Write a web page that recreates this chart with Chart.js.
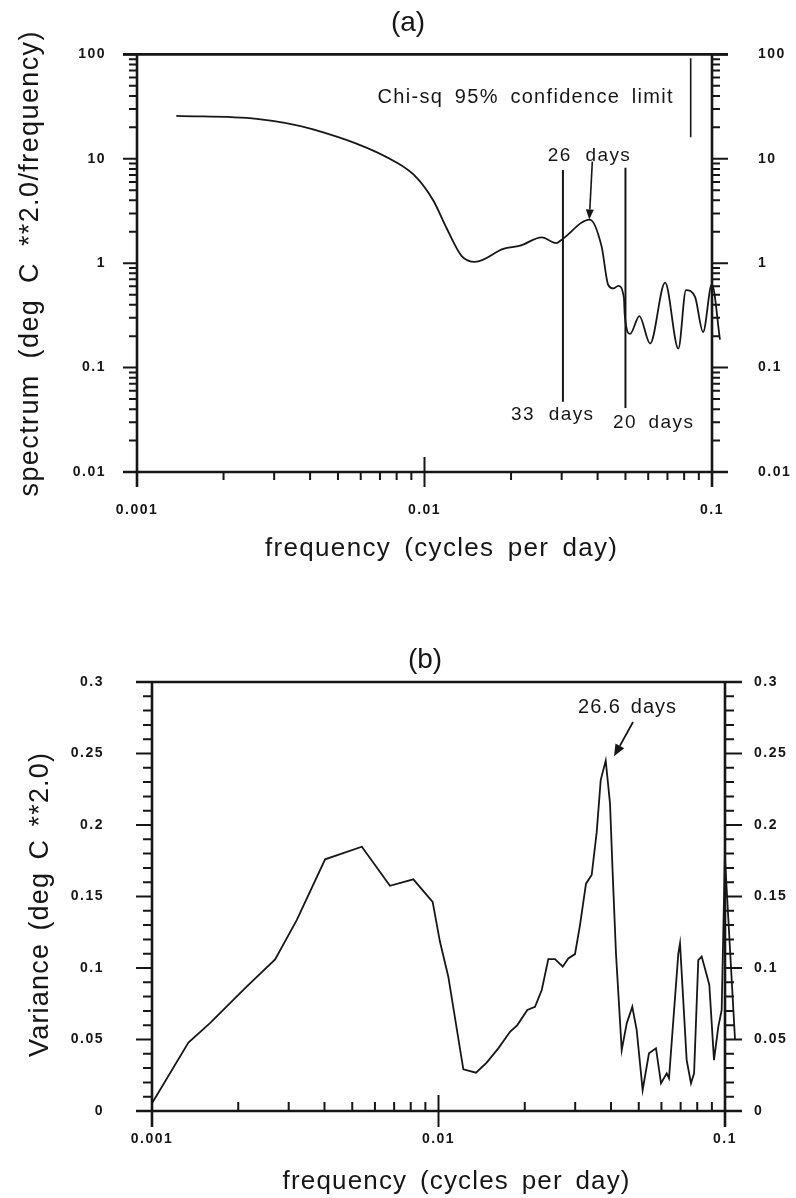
<!DOCTYPE html>
<html>
<head>
<meta charset="utf-8">
<script src="https://cdn.jsdelivr.net/npm/chart.js@4.4.1/dist/chart.umd.min.js"></script>
<style>
  html, body { margin: 0; padding: 0; background: #fff; }
  #wrap { position: relative; width: 796px; height: 1198px; background: #fff; }
  .box { position: absolute; left: 0; }
  #boxA { top: 0; }
  #boxB { top: 580px; }
</style>
</head>
<body>
<div id="wrap">
  <div class="box" id="boxA"><canvas id="spectrumChart" width="796" height="580"></canvas></div>
  <div class="box" id="boxB"><canvas id="varianceChart" width="796" height="618"></canvas></div>
</div>
<script>
// (a) spectrum, frequency in cycles per day
const specFreq = [0.00137, 0.00261, 0.00410, 0.00811, 0.00944, 0.01074, 0.01195, 0.01347, 0.0150,
    0.0188, 0.0215, 0.0256, 0.0287, 0.0300, 0.0376, 0.0413, 0.0436, 0.0454, 0.0472, 0.0494,
    0.0497, 0.0519, 0.0559, 0.0609, 0.0687, 0.0764, 0.0812, 0.0873, 0.0931, 0.0999, 0.1066];
const specValue = [25.8, 24.1, 19.1, 9.0, 6.5, 3.96, 2.15, 1.17, 1.03,
    1.37, 1.47, 1.77, 1.56, 1.68, 2.62, 1.45, 0.615, 0.573, 0.607, 0.462,
    0.323, 0.21, 0.311, 0.17, 0.652, 0.152, 0.553, 0.475, 0.219, 0.629, 0.185];

// (b) variance
const varFreq = [0.00100, 0.00134, 0.00159, 0.00214, 0.00269, 0.00320, 0.00402, 0.00540, 0.00677,
    0.00817, 0.00954, 0.01012, 0.01082, 0.01221, 0.01352, 0.01473, 0.01617, 0.01777, 0.01884,
    0.02042, 0.02172, 0.02293, 0.02417, 0.02551, 0.02714, 0.02838, 0.02995, 0.03118, 0.03272,
    0.03425, 0.03566, 0.03683, 0.03834, 0.03969, 0.04055, 0.04164, 0.04360, 0.04539, 0.04747,
    0.04918, 0.05159, 0.05428, 0.05743, 0.05979, 0.06259, 0.06376, 0.06871, 0.06966, 0.07349,
    0.07608, 0.0780, 0.08068, 0.08291, 0.08633, 0.08816, 0.09154, 0.09477, 0.09736, 0.0999, 0.1084];
const varValue = [0.0054, 0.0478, 0.0613, 0.0869, 0.106, 0.1335, 0.176, 0.1848, 0.1575,
    0.162, 0.1463, 0.1183, 0.0939, 0.0291, 0.0268, 0.0338, 0.0438, 0.0554, 0.0601,
    0.0706, 0.0729, 0.0846, 0.1062, 0.1062, 0.1009, 0.1067, 0.1097, 0.130, 0.159,
    0.165, 0.195, 0.2314, 0.245, 0.215, 0.166, 0.110, 0.0426, 0.0613, 0.0729,
    0.0566, 0.0147, 0.0403, 0.0438, 0.0194, 0.0263, 0.0229, 0.110, 0.1172, 0.0356,
    0.0194, 0.0263, 0.1055, 0.108, 0.0951, 0.0881, 0.0356, 0.059, 0.0706, 0.178, 0.0496];

// axes
const freqTicks = [0.001, 0.01, 0.1];
const freqTickLabels = ['0.001', '0.01', '0.1'];
const specTicks = [0.01, 0.1, 1, 10, 100];
const specTickLabels = ['0.01', '0.1', '1', '10', '100'];
const varTicks = [0, 0.05, 0.1, 0.15, 0.2, 0.25, 0.3];
const varTickLabels = ['0', '0.05', '0.1', '0.15', '0.2', '0.25', '0.3'];
const logMantissas = [2, 3, 4, 5, 6, 7, 8, 9];

// marked periods in (a): days, top and bottom of each line
const periodDays = [33, 20];
const periodTop = [7.8, 8.2];
const periodBottom = [0.047, 0.041];
const chiFreq = 0.0843;
const chiRange = [16.1, 91.8];

const ink = '#161616';
const family = "'Liberation Sans', Arial, Helvetica, sans-serif";
const tickFont = { family: family, size: 14, weight: 'bold' };

const freqMinor = freqTicks.slice(0, -1).flatMap(d => logMantissas.map(m => m * d));
const specMinor = specTicks.slice(0, -1).flatMap(d => logMantissas.map(m => m * d));
const varMinor = [];
for (let i = 1; i < 30; i++) if (i % 5) varMinor.push(i / 100);

// text stretched to the width it has in the print: some letter spacing, the rest between words
function putText(ctx, t, x, y) {
    ctx.save();
    ctx.font = `${t.weight || 'normal'} ${t.size}px ${family}`;
    ctx.fillStyle = ink;
    ctx.textBaseline = 'alphabetic';
    ctx.textAlign = 'left';
    const canSpace = 'letterSpacing' in ctx;
    if (canSpace) ctx.letterSpacing = '0px';
    if ('wordSpacing' in ctx) ctx.wordSpacing = '0px';
    const natural = ctx.measureText(t.text).width;
    const width = t.width || natural;
    ctx.translate(x, y);
    if (t.rotate) ctx.rotate(-Math.PI / 2);
    const n = t.text.length;
    const gaps = (t.text.match(/ /g) || []).length;
    if (canSpace && n > 1 && width !== natural) {
        const extra = width - natural;
        let ls = extra / (n - 1);
        if (gaps && 'wordSpacing' in ctx) {
            ls = Math.max(-0.5, Math.min(1.4, extra * 0.7 / (n - 1)));
            ctx.wordSpacing = ((extra - ls * (n - 1)) / gaps) + 'px';
        }
        ctx.letterSpacing = ls + 'px';
        ctx.fillText(t.text, -width / 2, 0);
    } else if (width !== natural) {
        ctx.scale(width / natural, 1);
        ctx.fillText(t.text, -natural / 2, 0);
    } else {
        ctx.fillText(t.text, -natural / 2, 0);
    }
    ctx.restore();
}

function drawFrame(chart, f) {
    const { ctx, chartArea: a } = chart;
    const xs = chart.scales.x, ys = chart.scales.y;
    ctx.save();
    ctx.strokeStyle = ink;
    ctx.lineWidth = f.frameWidth;
    ctx.beginPath();
    ctx.moveTo(a.left - f.yMajorLeft, a.top); ctx.lineTo(a.right + f.yMajorRight, a.top);
    ctx.moveTo(a.left - f.yMajorLeft, a.bottom); ctx.lineTo(a.right + f.yMajorRight, a.bottom);
    ctx.moveTo(a.left, a.top); ctx.lineTo(a.left, a.bottom + f.xMajor);
    ctx.moveTo(a.right, a.top); ctx.lineTo(a.right, a.bottom + f.xMajor);
    ctx.stroke();

    ctx.lineWidth = f.tickWidth;
    ctx.beginPath();
    f.yMajorTicks.forEach(v => {
        const p = ys.getPixelForValue(v);
        ctx.moveTo(a.left - f.yMajorLeft, p); ctx.lineTo(a.left, p);
        ctx.moveTo(a.right, p); ctx.lineTo(a.right + f.yMajorRight, p);
    });
    f.yMinorTicks.forEach(v => {
        const p = ys.getPixelForValue(v);
        ctx.moveTo(a.left - f.yMinor, p); ctx.lineTo(a.left, p);
        ctx.moveTo(a.right, p); ctx.lineTo(a.right + f.yMinor, p);
    });
    f.xMajorTicks.forEach(v => {
        const p = xs.getPixelForValue(v);
        ctx.moveTo(p, a.bottom - f.xMajor); ctx.lineTo(p, a.bottom + f.xMajor);
    });
    f.xMinorTicks.forEach(v => {
        const p = xs.getPixelForValue(v);
        ctx.moveTo(p, a.bottom); ctx.lineTo(p, a.bottom + f.xMinor);
    });
    ctx.stroke();
    ctx.restore();
}

function drawArrow(chart, arr) {
    const { ctx } = chart;
    const xs = chart.scales.x, ys = chart.scales.y;
    const x0 = xs.getPixelForValue(arr.from[0]), y0 = ys.getPixelForValue(arr.from[1]);
    const x1 = xs.getPixelForValue(arr.to[0]), y1 = ys.getPixelForValue(arr.to[1]);
    const ang = Math.atan2(y1 - y0, x1 - x0);
    const bx = x1 - arr.head * Math.cos(ang), by = y1 - arr.head * Math.sin(ang);
    ctx.save();
    ctx.strokeStyle = ink;
    ctx.fillStyle = ink;
    ctx.lineWidth = arr.lineWidth;
    ctx.beginPath();
    ctx.moveTo(x0, y0); ctx.lineTo(bx, by);
    ctx.stroke();
    ctx.beginPath();
    ctx.moveTo(x1, y1);
    ctx.lineTo(bx + arr.half * Math.sin(ang), by - arr.half * Math.cos(ang));
    ctx.lineTo(bx - arr.half * Math.sin(ang), by + arr.half * Math.cos(ang));
    ctx.closePath();
    ctx.fill();
    ctx.restore();
}

const decorations = {
    id: 'decorations',
    beforeDraw(chart) {
        if ('letterSpacing' in chart.ctx) chart.ctx.letterSpacing = '1.5px';
    },
    beforeDatasetsDraw(chart) {
        if ('letterSpacing' in chart.ctx) chart.ctx.letterSpacing = '0px';
    },
    afterDatasetsDraw(chart, args, opts) {
        const xs = chart.scales.x, ys = chart.scales.y;
        drawFrame(chart, opts.frame);
        (opts.arrows || []).forEach(a => drawArrow(chart, a));
        (opts.notes || []).forEach(t => putText(chart.ctx, t, xs.getPixelForValue(t.x), ys.getPixelForValue(t.y)));
        (opts.titles || []).forEach(t => putText(chart.ctx, t, t.px, t.py));
    }
};

function valueAxis(type, position, min, max, ticks, labels, width, padding) {
    return {
        type: type,
        position: position,
        min: min,
        max: max,
        afterBuildTicks: s => { s.ticks = ticks.map(v => ({ value: v })); },
        afterFit: s => { s.width = width; },
        grid: { display: false, drawTicks: false, tickLength: 0 },
        border: { display: false },
        ticks: {
            callback: (v, i) => labels[i],
            font: tickFont,
            color: ink,
            padding: padding,
            autoSkip: false
        }
    };
}

function freqAxis(height, padding) {
    return {
        type: 'logarithmic',
        min: 0.001,
        max: 0.1,
        afterBuildTicks: s => { s.ticks = freqTicks.map(v => ({ value: v })); },
        afterFit: s => { s.height = height; },
        grid: { display: false, drawTicks: false, tickLength: 0 },
        border: { display: false },
        ticks: {
            callback: (v, i) => freqTickLabels[i],
            font: tickFont,
            color: ink,
            padding: padding,
            maxRotation: 0,
            autoSkip: false
        }
    };
}

const lineStyle = { borderColor: ink, pointRadius: 0, fill: false };

// (a)
const specDatasets = [
    Object.assign({
        data: specFreq.map((f, i) => ({ x: f, y: specValue[i] })),
        borderWidth: 1.8,
        cubicInterpolationMode: 'monotone',
        clip: false
    }, lineStyle)
];
periodDays.forEach((d, i) => {
    specDatasets.push(Object.assign({
        data: [{ x: 1 / d, y: periodTop[i] }, { x: 1 / d, y: periodBottom[i] }],
        borderWidth: 2
    }, lineStyle));
});
specDatasets.push(Object.assign({
    data: [{ x: chiFreq, y: chiRange[0] }, { x: chiFreq, y: chiRange[1] }],
    borderWidth: 1.6
}, lineStyle));

new Chart(document.getElementById('spectrumChart'), {
    type: 'line',
    data: { datasets: specDatasets },
    options: {
        responsive: false,
        animation: false,
        events: [],
        layout: { padding: { top: 43, left: 0, right: 0, bottom: 0 } },
        elements: { line: { capBezierPoints: false } },
        scales: {
            x: freqAxis(108, 30),
            y: valueAxis('logarithmic', 'left', 0.01, 100, specTicks, specTickLabels, 137, 31),
            y2: valueAxis('logarithmic', 'right', 0.01, 100, specTicks, specTickLabels, 84, 46)
        },
        plugins: {
            legend: { display: false },
            tooltip: { enabled: false },
            decorations: {
                frame: {
                    frameWidth: 2.6, tickWidth: 2,
                    yMajorLeft: 14, yMajorRight: 16, yMinor: 8, xMajor: 15, xMinor: 8,
                    yMajorTicks: specTicks, yMinorTicks: specMinor,
                    xMajorTicks: freqTicks, xMinorTicks: freqMinor
                },
                arrows: [{ from: [0.03835, 9.42], to: [0.03743, 2.62], head: 10, half: 4, lineWidth: 1.6 }],
                notes: [
                    { text: 'Chi-sq 95% confidence limit', x: 0.02237, y: 34.2, size: 20, width: 295 },
                    { text: '26 days', x: 0.0373, y: 9.62, size: 19, width: 82 },
                    { text: '33 days', x: 0.02777, y: 0.0318, size: 19, width: 82 },
                    { text: '20 days', x: 0.0623, y: 0.0262, size: 19, width: 80 }
                ],
                titles: [
                    { text: '(a)', px: 408, py: 31, size: 28 },
                    { text: 'frequency (cycles per day)', px: 441, py: 556, size: 26, width: 352 },
                    { text: 'spectrum (deg C **2.0/frequency)', px: 38, py: 264, size: 27, width: 465, rotate: true }
                ]
            }
        }
    },
    plugins: [decorations]
});

// (b)
new Chart(document.getElementById('varianceChart'), {
    type: 'line',
    data: {
        datasets: [Object.assign({
            data: varFreq.map((f, i) => ({ x: f, y: varValue[i] })),
            borderWidth: 1.8,
            tension: 0,
            clip: false
        }, lineStyle)]
    },
    options: {
        responsive: false,
        animation: false,
        events: [],
        layout: { padding: { top: 102, left: 0, right: 0, bottom: 0 } },
        scales: {
            x: freqAxis(87, 20),
            y: valueAxis('linear', 'left', 0, 0.3, varTicks, varTickLabels, 152, 48),
            y2: valueAxis('linear', 'right', 0, 0.3, varTicks, varTickLabels, 71, 29)
        },
        plugins: {
            legend: { display: false },
            tooltip: { enabled: false },
            decorations: {
                frame: {
                    frameWidth: 2.6, tickWidth: 2,
                    yMajorLeft: 16, yMajorRight: 17, yMinor: 9, xMajor: 16, xMinor: -9,
                    yMajorTicks: varTicks, yMinorTicks: varMinor,
                    xMajorTicks: freqTicks, xMinorTicks: freqMinor
                },
                arrows: [{ from: [0.04775, 0.272], to: [0.04099, 0.248], head: 12, half: 5, lineWidth: 1.8 }],
                notes: [
                    { text: '26.6 days', x: 0.0455, y: 0.2783, size: 20, width: 98 }
                ],
                titles: [
                    { text: '(b)', px: 425, py: 88, size: 28 },
                    { text: 'frequency (cycles per day)', px: 456, py: 609, size: 26, width: 347 },
                    { text: 'Variance (deg C **2.0)', px: 48, py: 325, size: 27, width: 304, rotate: true }
                ]
            }
        }
    },
    plugins: [decorations]
});
</script>
</body>
</html>
